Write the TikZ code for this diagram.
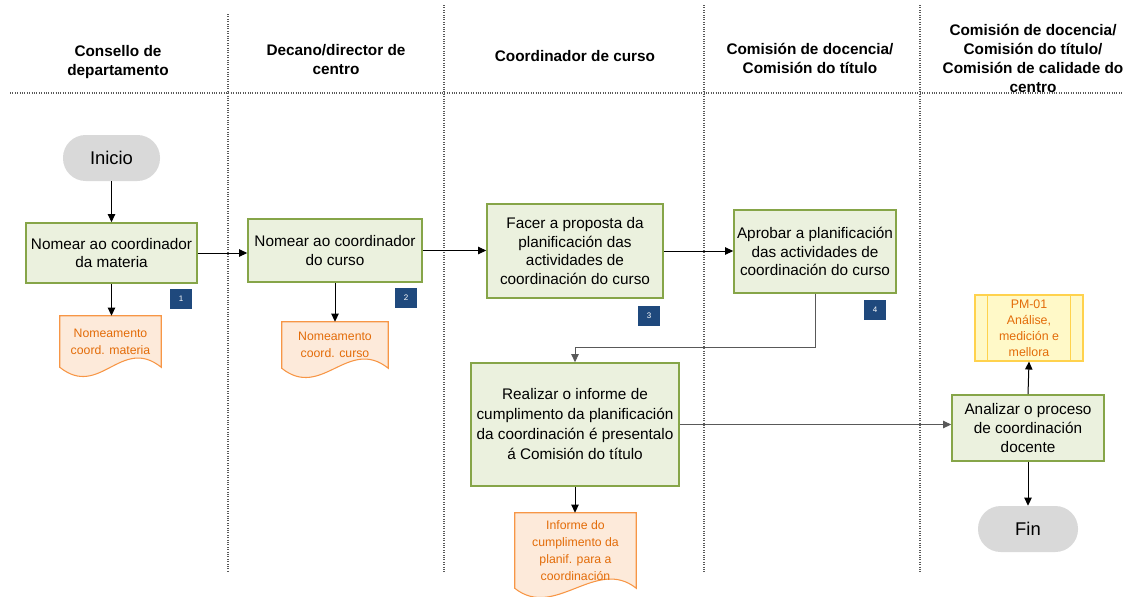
\documentclass[tikz,border=0pt]{standalone}
\usepackage{fontspec}
\setmainfont{Liberation Sans}
\usetikzlibrary{arrows.meta,calc,backgrounds}

\definecolor{taskfill}{HTML}{EBF1DE}
\definecolor{taskline}{HTML}{86A548}
\definecolor{termfill}{HTML}{D9D9D9}
\definecolor{docfill}{HTML}{FDEADA}
\definecolor{docline}{HTML}{F79646}
\definecolor{doctext}{HTML}{E36C09}
\definecolor{pmfill}{HTML}{FFF9C8}
\definecolor{pmline}{HTML}{FFD24D}
\definecolor{badgeblue}{HTML}{1F497D}
\definecolor{lanegray}{HTML}{595959}

\tikzset{
  laneline/.style={draw=lanegray, densely dotted, line width=0.8pt},
  lanetitle/.style={align=center, font=\bfseries\fontsize{11.5}{14.25}\selectfont},
  taskbox/.style={draw=taskline, fill=taskfill, line width=1.2pt, align=center,
    inner sep=2pt, font=\fontsize{11.5}{14}\selectfont},
  terminal/.style={fill=termfill, rounded corners=17pt, minimum height=34.5pt,
    font=\fontsize{13.8}{16}\selectfont},
  docnode/.style={align=center, inner sep=1pt, text=doctext,
    font=\fontsize{9.2}{12.75}\selectfont},
  docshape/.style={draw=docline, fill=docfill, line width=0.8pt},
  subproc/.style={draw=pmline, fill=pmfill, line width=0.8pt, align=center,
    text=doctext, minimum width=81pt, minimum height=49.5pt, inner sep=1pt,
    font=\fontsize{9.3}{12}\selectfont},
  badge/.style={fill=badgeblue, text=white, minimum width=16.5pt, minimum height=15pt,
    inner sep=0pt, font=\fontsize{6}{7}\selectfont},
  flow/.style={-{Triangle[length=6pt,width=5.5pt]}, line width=0.75pt},
  flowgray/.style={flow, draw=lanegray}
}

\begin{document}
\begin{tikzpicture}[x=0.75pt,y=-0.75pt]
  \useasboundingbox (0,0) rectangle (1123,596);

  % Lanes
  \draw[laneline] (10,93) -- (1123,93);
  \draw[laneline] (228,14) -- (228,572);
  \foreach \x in {444,704,920}
    \draw[laneline] (\x,5) -- (\x,572);

  % Lane titles
  \node[lanetitle] (h1) at (118,62) {Consello de\\departamento};
  \node[lanetitle] (h2) at (336,59.5) {Decano/director de\\centro};
  \node[lanetitle] (h3) at (575,56) {Coordinador de curso};
  \node[lanetitle] (h4) at (810,58.5) {Comisión de docencia/\\Comisión do título};
  \node[lanetitle] (h5) at (1033,58) {Comisión de docencia/\\Comisión do título/\\Comisión de calidade do\\centro};

  % Start and end
  \node[terminal, minimum width=72.75pt] (inicio) at (111.5,158) {Inicio};
  \node[terminal, minimum width=75pt] (fin) at (1028,529) {Fin};

  % Tasks
  \node[taskbox, minimum width=128.25pt, minimum height=45pt] (t1) at (111.5,253)
    {Nomear ao coordinador\\da materia};
  \node[taskbox, minimum width=130.5pt, minimum height=47.25pt] (t2) at (335,250.5)
    {Nomear ao coordinador\\do curso};
  \node[taskbox, minimum width=132pt, minimum height=70.5pt] (t3) at (575,251)
    {Facer a proposta da\\planificación das\\actividades de\\coordinación do curso};
  \node[taskbox, minimum width=121.5pt, minimum height=62.25pt] (t4) at (815,251.5)
    {Aprobar a planificación\\das actividades de\\coordinación do curso};
  \node[taskbox, minimum width=156pt, minimum height=92.25pt, font=\fontsize{11.5}{15}\selectfont] (t5) at (575,424.5)
    {Realizar o informe de\\cumplimento da planificación\\da coordinación é presentalo\\á Comisión do título};
  \node[taskbox, minimum width=114pt, minimum height=49.5pt] (t6) at (1028,428)
    {Analizar o proceso\\de coordinación\\docente};

  % Step numbers
  \node[badge] (n1) at (181,299) {1};
  \node[badge] (n2) at (406,298) {2};
  \node[badge] (n3) at (649,315.5) {3};
  \node[badge] (n4) at (875,310) {4};

  % Documents
  \node[docnode, minimum width=75.75pt, minimum height=38.25pt] (d1) at (110.5,341.5)
    {Nomeamento\\coord. materia};
  \node[docnode, minimum width=79.5pt, minimum height=34.5pt] (d2) at (335,345)
    {Nomeamento\\coord. curso};
  \node[docnode, minimum width=90.75pt, minimum height=56.25pt] (d3) at (575.5,550.5)
    {Informe do\\cumplimento da\\planif. para a\\coordinación};
  \begin{scope}[on background layer]
    \foreach \d in {d1,d2,d3}
      \filldraw[docshape] (\d.south west) -- (\d.north west) -- (\d.north east) -- (\d.south east)
        .. controls ($(\d.south east)+(-40,-32)$) and ($(\d.south west)+(40,32)$) .. (\d.south west) -- cycle;
  \end{scope}

  % Subprocess
  \node[subproc] (pm) at (1029,328) {PM-01\\Análise,\\medición e\\mellora};
  \draw[draw=pmline, line width=0.8pt] ($(pm.north west)+(13,0)$) -- ($(pm.south west)+(13,0)$);
  \draw[draw=pmline, line width=0.8pt] ($(pm.north east)+(-13,0)$) -- ($(pm.south east)+(-13,0)$);

  % Connectors
  \coordinate (bend) at (815,347);
  \draw[flow] (inicio) -- (t1);
  \draw[flow] (t1.south) -- (t1.south |- d1.north);
  \draw[flow] (t1.east) -- (t1.east -| t2.west);
  \draw[flow] (t2.south) -- (t2.south |- d2.north);
  \draw[flow] (t2.east) -- (t2.east -| t3.west);
  \draw[flow] (t3.east) -- (t3.east -| t4.west);
  \draw[flowgray] (t4.south) -- (bend) -| (t5.north);
  \draw[flow] (t5.south) -- (t5.south |- d3.north);
  \draw[flowgray] (t5.east) -- (t5.east -| t6.west);
  \draw[flow] (t6.north) -- (pm.south);
  \draw[flow] (t6.south) -- (fin.north);
\end{tikzpicture}
\end{document}
